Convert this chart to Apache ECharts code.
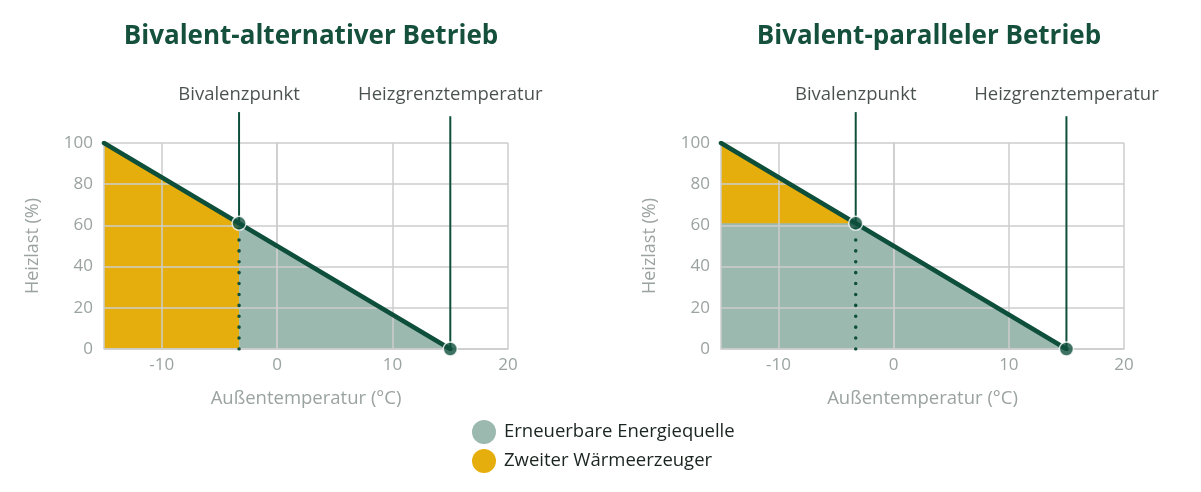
<!DOCTYPE html>
<html>
<head>
<meta charset="utf-8">
<script src="https://cdn.jsdelivr.net/npm/echarts@6/dist/echarts.min.js"></script>
<style>html,body{margin:0;padding:0;background:#fff;}#c{width:1201px;height:492px;}</style>
</head>
<body>
<div id="c"></div>
<script>
// ---- data ----
const titles = ['Bivalent-alternativer Betrieb', 'Bivalent-paralleler Betrieb'];
const seriesNames = ['Erneuerbare Energiequelle', 'Zweiter Wärmeerzeuger'];
const markerLabels = ['Bivalenzpunkt', 'Heizgrenztemperatur'];
const xRange = [-15, 20];
const yRange = [0, 100];
const yTicks = 20;
const heatLoadLine = [[-15, 100], [15, 0]];   // Heizlast vs Außentemperatur
const bivalentPoint = [-3.3, 61];
const heatLimitPoint = [15, 0];
const bivalentLineTop = 115;
const heatLimitLineTop = 113;
const markerLabelAnchor = 115;

// ---- styles ----
const C_GREEN = '#9bb9ae', C_ORANGE = '#e6ae0c', C_DARK = '#0e4f3b';
const C_GRID = '#cdcdcd', C_TICK = '#9aa39f', C_TEXT = '#1b2520';
const FONT = 'Open Sans';

const grids = [
  {left: 104, top: 143, width: 404, height: 206},
  {left: 721, top: 143, width: 403, height: 206}
];

function xAxis(i) {
  return {
    type: 'value', gridIndex: i, min: xRange[0], max: xRange[1], splitNumber: 4, z: 3,
    name: 'Außentemperatur (°C)', nameLocation: 'middle', nameGap: 40,
    nameTextStyle: {color: C_TICK, fontSize: 18.5, fontFamily: FONT},
    axisLine: {show: true, lineStyle: {color: C_GRID, width: 1.5}},
    axisTick: {show: false},
    axisLabel: {color: C_TICK, fontSize: 17, fontFamily: FONT, margin: 8, showMinLabel: false},
    splitLine: {show: true, lineStyle: {color: C_GRID, width: 1.5}}
  };
}
function yAxis(i) {
  return {
    type: 'value', gridIndex: i, min: yRange[0], max: yRange[1], interval: yTicks, z: 3,
    name: 'Heizlast (%)', nameLocation: 'middle', nameGap: 62, nameRotate: 90,
    nameTextStyle: {color: C_TICK, fontSize: 18, fontFamily: FONT},
    axisLine: {show: true, lineStyle: {color: C_GRID, width: 1.5}},
    axisTick: {show: false},
    axisLabel: {color: C_TICK, fontSize: 17, fontFamily: FONT, margin: 11},
    splitLine: {show: true, lineStyle: {color: C_GRID, width: 1.5}}
  };
}

function area(name, i, data, color, z) {
  return {
    type: 'line', name, xAxisIndex: i, yAxisIndex: i, data, z,
    symbol: 'none', lineStyle: {width: 0, color}, itemStyle: {color},
    areaStyle: {color, opacity: 1}, silent: true
  };
}

function overlays(i) {
  const s = [];
  // dotted divider
  s.push({type: 'line', xAxisIndex: i, yAxisIndex: i, z: 6, symbol: 'none', silent: true,
    data: [[bivalentPoint[0], 0], [bivalentPoint[0], bivalentPoint[1]]],
    lineStyle: {color: C_DARK, width: 3.5, type: [0.1, 10.8], cap: 'round'}});
  // heat load line
  s.push({type: 'line', xAxisIndex: i, yAxisIndex: i, z: 7, symbol: 'none', silent: true,
    data: heatLoadLine, lineStyle: {color: C_DARK, width: 4.5, cap: 'round'}});
  // vertical marker lines
  s.push({type: 'line', xAxisIndex: i, yAxisIndex: i, z: 7, symbol: 'none', clip: false, silent: true,
    data: [bivalentPoint, [bivalentPoint[0], bivalentLineTop]],
    lineStyle: {color: C_DARK, width: 2}});
  s.push({type: 'line', xAxisIndex: i, yAxisIndex: i, z: 7, symbol: 'none', clip: false, silent: true,
    data: [heatLimitPoint, [heatLimitPoint[0], heatLimitLineTop]],
    lineStyle: {color: C_DARK, width: 2}});
  // marker labels
  s.push({type: 'scatter', xAxisIndex: i, yAxisIndex: i, z: 8, silent: true, clip: false,
    symbolSize: 0,
    data: [
      {value: [bivalentPoint[0], markerLabelAnchor], label: {formatter: markerLabels[0]}},
      {value: [heatLimitPoint[0], markerLabelAnchor], label: {formatter: markerLabels[1]}}
    ],
    label: {show: true, position: 'top', distance: 8, color: C_TEXT, fontSize: 18.5, fontFamily: FONT}});
  // points
  s.push({type: 'scatter', xAxisIndex: i, yAxisIndex: i, z: 8, silent: true, clip: false,
    data: [bivalentPoint, heatLimitPoint], symbolSize: 14,
    itemStyle: {color: C_DARK, borderColor: '#fff', borderWidth: 1.5}});
  return s;
}

const series = [];
// left: alternative
series.push(area(seriesNames[1], 0, [heatLoadLine[0], bivalentPoint], C_ORANGE, 2));
series.push(area(seriesNames[0], 0, [bivalentPoint, heatLoadLine[1]], C_GREEN, 2));
series.push(...overlays(0));
// right: parallel
series.push(area(seriesNames[1], 1, [heatLoadLine[0], bivalentPoint], C_ORANGE, 2));
series.push(area(seriesNames[0], 1, [[heatLoadLine[0][0], bivalentPoint[1]], bivalentPoint, heatLoadLine[1]], C_GREEN, 2.1));
series.push(...overlays(1));

const chart = echarts.init(document.getElementById('c'), null, {renderer: 'canvas'});
chart.setOption({
  animation: false,
  backgroundColor: '#fff',
  title: [
    {text: titles[0], left: 306, top: 19, textAlign: 'center',
      textStyle: {color: '#14503c', fontSize: 26, fontWeight: 'bold', fontFamily: FONT}},
    {text: titles[1], left: 924, top: 19, textAlign: 'center',
      textStyle: {color: '#14503c', fontSize: 26, fontWeight: 'bold', fontFamily: FONT}}
  ],
  legend: {
    orient: 'vertical', left: 467, top: 415, itemGap: 5, icon: 'circle', itemWidth: 24, itemHeight: 24,
    data: [seriesNames[0], seriesNames[1]],
    selectedMode: false,
    textStyle: {color: C_TEXT, fontSize: 18.5, fontFamily: FONT, padding: [0, 0, 0, 3]}
  },
  grid: grids,
  xAxis: [xAxis(0), xAxis(1)],
  yAxis: [yAxis(0), yAxis(1)],
  series
});
</script>
</body>
</html>
